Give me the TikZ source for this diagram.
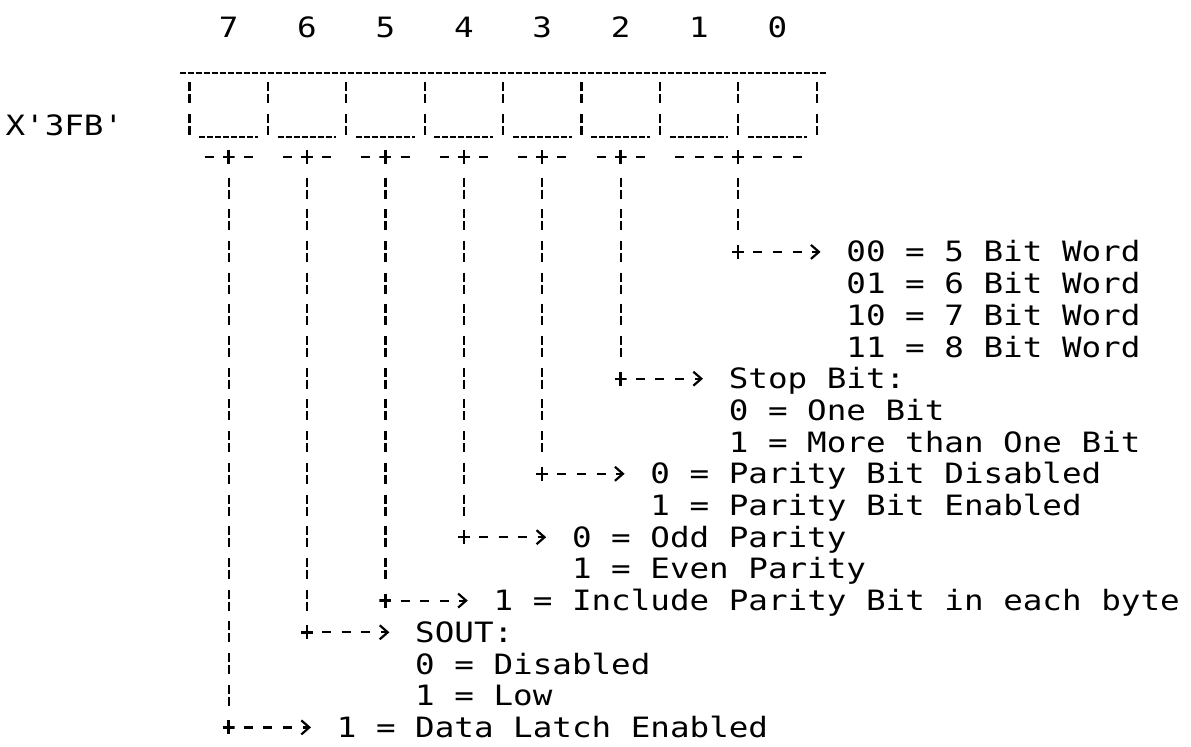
\documentclass[tikz,border=0pt]{standalone}
\usepackage{fontspec}
\usetikzlibrary{arrows.meta}
\newfontfamily\dotmono{DejaVu Sans Mono}[FakeStretch=1.163]
\tikzset{
  txt/.style={font=\dotmono\fontsize{14pt}{14pt}\selectfont, inner sep=0pt, anchor=base west},
  num/.style={txt, anchor=base},
  bar/.style={line width=1.1pt, dash pattern=on 4.5pt off 1.5pt on 4.5pt off 5.35pt},
  uline/.style={line width=1.1pt, dash pattern=on 3pt off 1pt},
  tick/.style={line width=1.1pt, dash pattern=on 4.5pt off 5.3pt},
  plus/.style={inner sep=0pt, minimum width=6pt, minimum height=7pt,
    path picture={\draw[line width=1.2pt] (path picture bounding box.north) -- (path picture bounding box.south)
      (path picture bounding box.west) -- (path picture bounding box.east);}},
  vconn/.style={bar, shorten <=10.35pt, shorten >=6pt},
  hconn/.style={tick, shorten <=7.55pt, shorten >=12.7pt, -{Straight Barb[length=4pt,width=7pt]}},
}
\begin{document}
\begin{tikzpicture}[x=9.8pt,y=-15.85pt]
\useasboundingbox (-0.6633,-0.9464) rectangle (60.102,22.5868);
% bit numbers
\foreach \b [count=\i from 0] in {7,6,5,4,3,2,1,0}
  \node[num] (h\b) at (11+4*\i,0.25) {\b};
% register name
\node[txt] (reg) at (-0.4,3.3155) {X'3FB'};
% register box
\draw[uline] (8.5,1.35) -- (41.5,1.35);
\foreach \c in {9,13,...,41} \draw[bar] (\c,1.653) -- (\c,3.315);
\foreach \c in {9,13,...,37} \draw[uline] (\c+0.5,3.379) -- (\c+3.5,3.379);
% -+- marks
\foreach \c in {11,15,...,31} \draw[tick] (\c-1.2296,4) -- (\c+1.2296,4);
\draw[tick] (33.7704,4) -- (40.2296,4);
% junctions under the cells
\node[plus] (j7) at (11,4) {};
\node[plus] (j6) at (15,4) {};
\node[plus] (j5) at (19,4) {};
\node[plus] (j4) at (23,4) {};
\node[plus] (j3) at (27,4) {};
\node[plus] (j2) at (31,4) {};
\node[plus] (j10) at (37,4) {};
% turning points
\node[plus] (k7) at (11,22) {};
\node[plus] (k6) at (15,19) {};
\node[plus] (k5) at (19,18) {};
\node[plus] (k4) at (23,16) {};
\node[plus] (k3) at (27,14) {};
\node[plus] (k2) at (31,11) {};
\node[plus] (k10) at (37,7) {};
% descriptions
\node[txt] (d10) at (42.5,7.3155) {00 = 5 Bit Word};
\node[txt] (d10b) at (42.5,8.3155) {01 = 6 Bit Word};
\node[txt] (d10c) at (42.5,9.3155) {10 = 7 Bit Word};
\node[txt] (d10d) at (42.5,10.3155) {11 = 8 Bit Word};
\node[txt] (d2) at (36.5,11.3155) {Stop Bit:};
\node[txt] (d2b) at (36.5,12.3155) {0 = One Bit};
\node[txt] (d2c) at (36.5,13.3155) {1 = More than One Bit};
\node[txt] (d3) at (32.5,14.3155) {0 = Parity Bit Disabled};
\node[txt] (d3b) at (32.5,15.3155) {1 = Parity Bit Enabled};
\node[txt] (d4) at (28.5,16.3155) {0 = Odd Parity};
\node[txt] (d4b) at (28.5,17.3155) {1 = Even Parity};
\node[txt] (d5) at (24.5,18.3155) {1 = Include Parity Bit in each byte};
\node[txt] (d6) at (20.5,19.3155) {SOUT:};
\node[txt] (d6b) at (20.5,20.3155) {0 = Disabled};
\node[txt] (d6c) at (20.5,21.3155) {1 = Low};
\node[txt] (d7) at (16.5,22.3155) {1 = Data Latch Enabled};
% connectors
\foreach \n in {7,6,5,4,3,2,10} {
  \draw[vconn] (j\n.center) -- (k\n.center);
  \draw[hconn] (k\n.center) -- (k\n.center -| d\n.west);
}
\end{tikzpicture}
\end{document}
